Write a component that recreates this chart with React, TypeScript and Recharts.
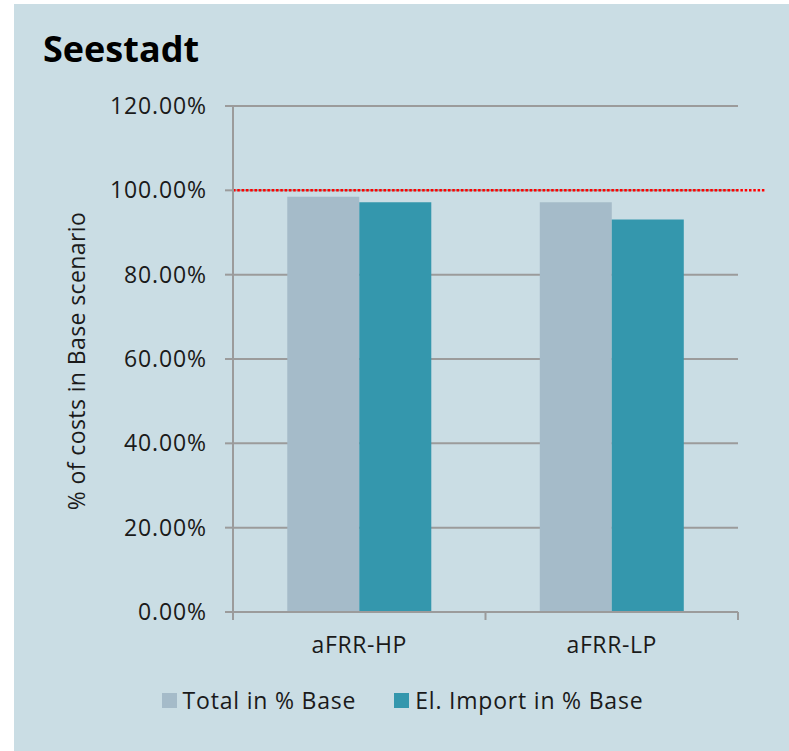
import React from 'react';
import {
  BarChart,
  Bar,
  XAxis,
  YAxis,
  CartesianGrid,
  ReferenceLine,
  Legend
} from 'recharts';

// values, in % of the Base scenario
const scenarios = ['aFRR-HP', 'aFRR-LP'];
const totalInBase = [98.5, 97.2];
const elImportInBase = [97.2, 93.1];
const yTicks = [0, 20, 40, 60, 80, 100, 120];

const SERIES = [
  { key: 'total', name: 'Total in % Base', color: '#a5bbc9' },
  { key: 'elImport', name: 'El. Import in % Base', color: '#3497ad' }
];

const data = scenarios.map((name, i) => ({
  name,
  total: totalInBase[i],
  elImport: elImportInBase[i]
}));

const FONT = '"Open Sans", "Noto Sans", sans-serif';
const TEXT = '#1a1a1a';
const AXIS = '#9b9b9b';

// Excel-style category ticks: marks on the band edges, label in the middle
const CategoryTick = (props: any) => {
  const { x, y, payload, index, visibleTicksCount } = props;
  const half = payload?.offset ?? 126;
  const axisY = y - 25;
  const isLast = index === visibleTicksCount - 1;
  return (
    <g>
      <line x1={x - half} x2={x - half} y1={axisY} y2={axisY + 8} stroke={AXIS} strokeWidth={2} />
      {isLast && (
        <line x1={x + half} x2={x + half} y1={axisY} y2={axisY + 8} stroke={AXIS} strokeWidth={2} />
      )}
      <text
        x={x}
        y={y}
        dy="0.71em"
        textAnchor="middle"
        fill={TEXT}
        fontSize={23}
        fontFamily={FONT}
        letterSpacing={0.6}
      >
        {payload.value}
      </text>
    </g>
  );
};

const YTitle = (props: any) => {
  const vb = props.viewBox || {};
  const cx = vb.x + 9;
  const cy = vb.y + vb.height / 2 + 2;
  return (
    <text
      x={cx}
      y={cy}
      transform={`rotate(-90 ${cx} ${cy})`}
      textAnchor="middle"
      dominantBaseline="central"
      fill={TEXT}
      fontSize={23}
      fontFamily={FONT}
      letterSpacing={0.4}
    >
      % of costs in Base scenario
    </text>
  );
};

// dotted 100% line, running a bit past the plot like the original
const DottedLine = (props: any) => {
  const { x1, y1, x2, y2 } = props;
  return (
    <line
      x1={x1}
      y1={y1}
      x2={x2 + 27}
      y2={y2}
      stroke="#ff0000"
      strokeWidth={2.5}
      strokeDasharray="2.5 1.8"
    />
  );
};

const LegendContent = () => (
  <div
    style={{
      display: 'flex',
      justifyContent: 'center',
      alignItems: 'center',
      height: 40,
      fontFamily: FONT,
      fontSize: 23,
      letterSpacing: 0.8,
      color: TEXT
    }}
  >
    {SERIES.map((s, i) => (
      <div
        key={s.key}
        style={{ display: 'flex', alignItems: 'center', marginLeft: i === 0 ? 0 : 38 }}
      >
        <span style={{ width: 15, height: 15, background: s.color, marginRight: 6 }} />
        <span>{s.name}</span>
      </div>
    ))}
  </div>
);

export default function App() {
  return (
    <div style={{ position: 'absolute', left: 0, top: 0, width: 789, height: 751, background: '#fff' }}>
      <div
        style={{
          position: 'absolute',
          left: 14,
          top: 4,
          right: 0,
          bottom: 0,
          background: '#cadde4'
        }}
      />
      <div
        style={{
          position: 'absolute',
          left: 43,
          top: 31,
          fontFamily: FONT,
          fontWeight: 700,
          fontSize: 36,
          lineHeight: '36px',
          color: '#000'
        }}
      >
        Seestadt
      </div>
      <div style={{ position: 'absolute', left: 0, top: 0 }}>
        <BarChart
          width={789}
          height={751}
          data={data}
          margin={{ top: 106, right: 51, left: 67, bottom: 39 }}
          barCategoryGap="21.5%"
          barGap={0}
        >
          <CartesianGrid vertical={false} stroke={AXIS} strokeWidth={2} />
          <XAxis
            dataKey="name"
            height={60}
            axisLine={{ stroke: AXIS, strokeWidth: 2 }}
            tickLine={false}
            tickMargin={17}
            tickSize={8}
            tick={<CategoryTick />}
            interval={0}
          />
          <YAxis
            width={166}
            domain={[0, 120]}
            ticks={yTicks}
            interval={0}
            tickFormatter={(v: number) => `${v.toFixed(2)}%`}
            axisLine={{ stroke: AXIS, strokeWidth: 2 }}
            tickLine={{ stroke: AXIS, strokeWidth: 2 }}
            tickSize={8}
            tickMargin={18}
            tick={{ fill: TEXT, fontSize: 23, fontFamily: FONT, letterSpacing: 0.9 }}
            label={<YTitle />}
          />
          <Legend
            verticalAlign="bottom"
            content={<LegendContent />}
            wrapperStyle={{ bottom: 31 }}
          />
          {SERIES.map((s) => (
            <Bar
              key={s.key}
              dataKey={s.key}
              name={s.name}
              fill={s.color}
              isAnimationActive={false}
            />
          ))}
          <ReferenceLine y={100} shape={<DottedLine />} />
        </BarChart>
      </div>
    </div>
  );
}
